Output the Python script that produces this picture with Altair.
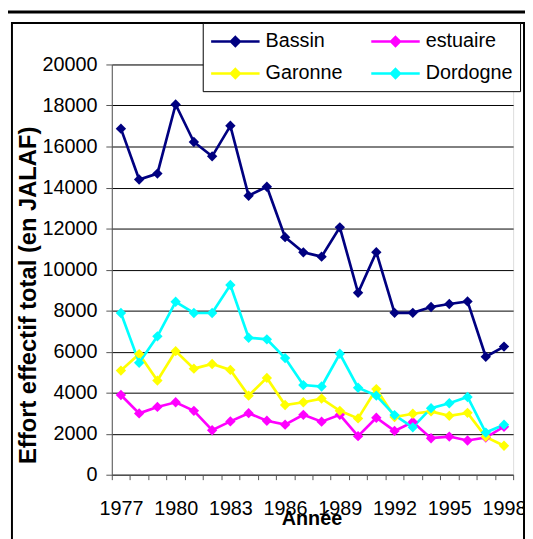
import altair as alt
import pandas as pd

years = list(range(1977, 1999))
series_names = ["Bassin", "estuaire", "Garonne", "Dordogne"]
series_colors = ["#000080", "#FF00FF", "#FFFF00", "#00FFFF"]
bassin = [16870, 14390, 14680, 18050, 16220, 15520, 17010, 13600, 14040, 11580,
          10840, 10630, 12060, 8870, 10850, 7890, 7890, 8175, 8320, 8450, 5750, 6245]
estuaire = [3885, 2990, 3305, 3530, 3115, 2170, 2600, 3000, 2630, 2440,
            2920, 2585, 2920, 1880, 2775, 2135, 2570, 1780, 1860, 1670, 1810, 2340]
garonne = [5075, 5880, 4590, 6025, 5170, 5400, 5110, 3855, 4720, 3400,
           3530, 3710, 3115, 2745, 4175, 2810, 2970, 3085, 2870, 3015, 1845, 1410]
dordogne = [7885, 5460, 6745, 8430, 7885, 7885, 9250, 6680, 6600, 5685,
            4370, 4300, 5895, 4240, 3855, 2905, 2310, 3245, 3485, 3790, 2055, 2440]
y_ticks = list(range(0, 20001, 2000))
x_title = "Année"
y_title = "Effort effectif total (en JALAF)"

FONT = "Liberation Sans"

rows = []
for name, vals in zip(series_names, [bassin, estuaire, garonne, dordogne]):
    for yr, v in zip(years, vals):
        rows.append({"Année": yr, "Effort": v, "Série": name})
df = pd.DataFrame(rows)

x_tick_vals = [y - 0.5 for y in years] + [years[-1] + 0.5]

W, H = 406, 415
half_band = W / len(years) / 2

x_enc = alt.X(
    "Année:Q",
    scale=alt.Scale(domain=[years[0] - 0.5, years[-1] + 0.5], nice=False, zero=False),
    axis=alt.Axis(
        values=x_tick_vals,
        labelExpr="((datum.value + 0.5 - 1977) % 3 == 0) ? toString(datum.value + 0.5) : ''",
        labelOffset=half_band,
        labelOverlap=False,
        labelBound=False,
        labelFlush=False,
        labelPadding=19,
        labelBaseline="top",
        tickSize=5,
        tickColor="#555555",
        domainColor="#555555",
        grid=False,
        labelFont=FONT,
        labelFontSize=20,
        labelColor="black",
        title=x_title,
        titleFont=FONT,
        titleFontSize=20,
        titleFontWeight="bold",
        titleColor="black",
        titleX=202,
        titleY=50,
        titleBaseline="alphabetic",
        titleAlign="center",
    ),
)

y_enc = alt.Y(
    "Effort:Q",
    scale=alt.Scale(domain=[0, 20000], nice=False),
    axis=alt.Axis(
        values=y_ticks,
        format="d",
        grid=True,
        gridColor="black",
        gridWidth=1,
        tickSize=6,
        tickColor="#555555",
        domainColor="#555555",
        labelPadding=9,
        labelFont=FONT,
        labelFontSize=20,
        labelColor="black",
        title=y_title,
        titleFont=FONT,
        titleFontSize=24,
        titleFontWeight="bold",
        titleColor="black",
        titleAngle=270,
        titleX=-84,
        titleY=233,
        titleAlign="center",
        titleBaseline="middle",
    ),
)

legend_path = "M-1,0L3.9,0M1.45,-0.45L1.9,0L1.45,0.45L1,0Z"

color_enc = alt.Color(
    "Série:N",
    scale=alt.Scale(domain=series_names, range=series_colors),
    legend=alt.Legend(
        title=None,
        orient="none",
        legendX=92,
        legendY=-42,
        columns=2,
        direction="horizontal",
        symbolType=legend_path,
        symbolSize=400,
        symbolStrokeWidth=2.5,
        labelOffset=33.5,
        labelFont=FONT,
        labelFontSize=20,
        labelColor="black",
        columnPadding=23,
        rowPadding=10.6,
        padding=7,
        strokeColor="black",
        fillColor="white",
    ),
)

lines = alt.Chart(df).mark_line(
    strokeWidth=2.7,
    point=alt.OverlayMarkDef(shape="diamond", filled=True, size=110, opacity=1),
).encode(x=x_enc, y=y_enc, color=color_enc, order="Année:Q")

deco = pd.DataFrame({"k": [0]})
border = alt.Chart(deco).mark_rect(fill="transparent", stroke="black", strokeWidth=2).encode(
    x=alt.value(-101), x2=alt.value(417), y=alt.value(-42), y2=alt.value(500)
)
topline = alt.Chart(deco).mark_rule(color="black", strokeWidth=3).encode(
    x=alt.value(-113), x2=alt.value(420), y=alt.value(-53)
)

chart = alt.layer(border, topline, lines).properties(
    width=W,
    height=H,
    autosize=alt.AutoSizeParams(type="none"),
    padding={"left": 105, "top": 54, "right": 12, "bottom": 70},
).configure_view(stroke="#c0c0c0", strokeWidth=2).configure(background="white")

chart.save("out.html", embed_options={"renderer": "svg", "actions": False})
